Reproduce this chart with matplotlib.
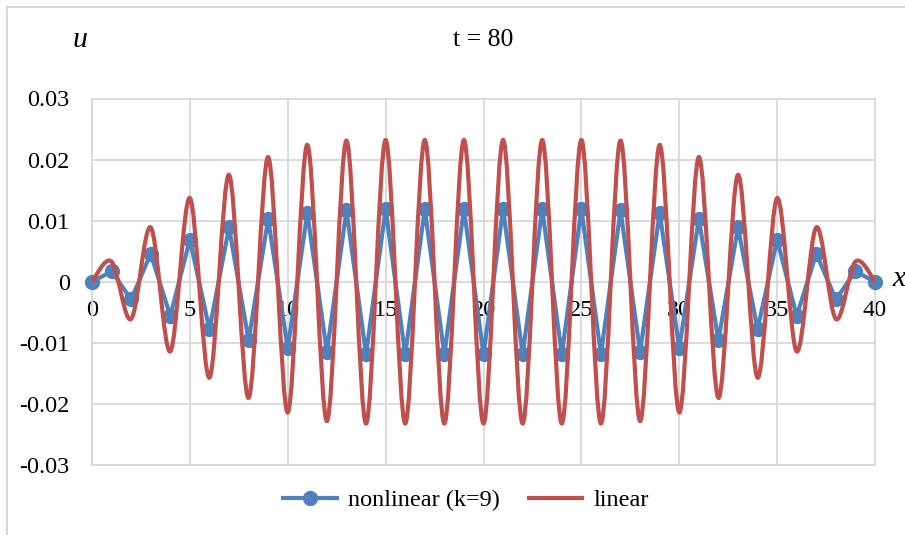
import matplotlib
matplotlib.use("Agg")
import matplotlib.pyplot as plt
from matplotlib.path import Path
from matplotlib.patches import PathPatch
from matplotlib.lines import Line2D

plt.rcParams['font.family'] = ['Liberation Serif', 'DejaVu Serif']

# Wave profile u(x) at t = 80, sampled at integer positions 0..40
x_pos = list(range(0, 41))

nonlinear_u = [
    0.0, 0.0017, -0.0029, 0.0046, -0.0056, 0.0069, -0.0078, 0.0089, -0.0096, 0.0103,
    -0.0109, 0.0113, -0.0115, 0.0117, -0.0119, 0.0119, -0.0119, 0.0119, -0.0119, 0.0119,
    -0.0119, 0.0119, -0.0119, 0.0119, -0.0119, 0.0119, -0.0119, 0.0117, -0.0115, 0.0113,
    -0.0109, 0.0103, -0.0096, 0.0089, -0.0078, 0.0069, -0.0056, 0.0046, -0.0029, 0.0017,
    0.0,
]

linear_u = [
    0.0, 0.0033, -0.0061, 0.0089, -0.0114, 0.0137, -0.0157, 0.0175, -0.0190, 0.0204,
    -0.0214, 0.0224, -0.0228, 0.0231, -0.0232, 0.0232, -0.0232, 0.0232, -0.0232, 0.0232,
    -0.0232, 0.0232, -0.0232, 0.0232, -0.0232, 0.0232, -0.0232, 0.0231, -0.0228, 0.0224,
    -0.0214, 0.0204, -0.0190, 0.0175, -0.0157, 0.0137, -0.0114, 0.0089, -0.0061, 0.0033,
    0.0,
]

x_ticks = [0, 5, 10, 15, 20, 25, 30, 35, 40]
y_ticks = [-0.03, -0.02, -0.01, 0.0, 0.01, 0.02, 0.03]
y_tick_labels = ["-0.03", "-0.02", "-0.01", "0", "0.01", "0.02", "0.03"]

BLUE = "#4f81bd"
RED = "#c0504d"
GRID = "#d9d9d9"
FS = 17.5


def smooth_path(xs, ys):
    """Cubic Bezier path through the points (spreadsheet-style smoothed line)."""
    pts = list(zip(xs, ys))
    n = len(pts)
    verts = [pts[0]]
    codes = [Path.MOVETO]
    for i in range(n - 1):
        p0 = pts[i - 1] if i > 0 else pts[i]
        p1 = pts[i]
        p2 = pts[i + 1]
        p3 = pts[i + 2] if i + 2 < n else pts[i + 1]
        c1 = (p1[0] + (p2[0] - p0[0]) / 6.0, p1[1] + (p2[1] - p0[1]) / 6.0)
        c2 = (p2[0] - (p3[0] - p1[0]) / 6.0, p2[1] - (p3[1] - p1[1]) / 6.0)
        verts += [c1, c2, p2]
        codes += [Path.CURVE4] * 3
    return Path(verts, codes)


fig = plt.figure(figsize=(9.05, 5.35), dpi=100)
ax = fig.add_axes([92 / 905, 1 - 465 / 535, 783 / 905, (465 - 98.5) / 535])

ax.set_xlim(0, 40)
ax.set_ylim(-0.03, 0.03)
ax.set_xticks(x_ticks)
ax.set_yticks(y_ticks)
ax.set_yticklabels(y_tick_labels)
ax.grid(True, color=GRID, linewidth=1.3)
ax.set_axisbelow(True)
for sp in ax.spines.values():
    sp.set_color(GRID)
    sp.set_linewidth(1.3)
ax.tick_params(length=0, labelsize=FS, pad=16)
ax.tick_params(axis='x', labelbottom=False)

# category labels sit on the zero line
for xv in x_ticks:
    ax.text(xv, -0.0030, str(xv), ha='center', va='top', fontsize=FS, zorder=1)

ax.plot(x_pos, nonlinear_u, color=BLUE, lw=3.0, marker='o', markersize=10,
        zorder=3, clip_on=False)
ax.add_patch(PathPatch(smooth_path(x_pos, linear_u), facecolor='none',
                       edgecolor=RED, lw=3.0, zorder=4, capstyle='round'))

fig.text(483 / 905, 1 - 40 / 535, "t = 80", ha='center', va='center', fontsize=FS + 1)
fig.text(80 / 905, 1 - 40 / 535, "u", ha='center', va='center', fontsize=FS + 4,
         style='italic')
fig.text(892 / 905, 1 - 279 / 535, "x", ha='left', va='center', fontsize=FS + 4,
         style='italic')

handles = [
    Line2D([], [], color=BLUE, lw=3.0, marker='o', markersize=10),
    Line2D([], [], color=RED, lw=3.0),
]
fig.legend(handles, ["nonlinear (k=9)", "linear"], loc='center',
           bbox_to_anchor=(466 / 905, 1 - 500 / 535), ncol=2, frameon=False,
           fontsize=FS, handlelength=2.2, columnspacing=1.2, handletextpad=0.45)

# outer chart border (left and top edges)
fig.add_artist(Line2D([7 / 905, 7 / 905], [0, 1 - 7 / 535], color=GRID, lw=1.5,
                      transform=fig.transFigure))
fig.add_artist(Line2D([7 / 905, 1], [1 - 7 / 535, 1 - 7 / 535], color=GRID, lw=1.5,
                      transform=fig.transFigure))

fig.savefig("out.png", dpi=100)
